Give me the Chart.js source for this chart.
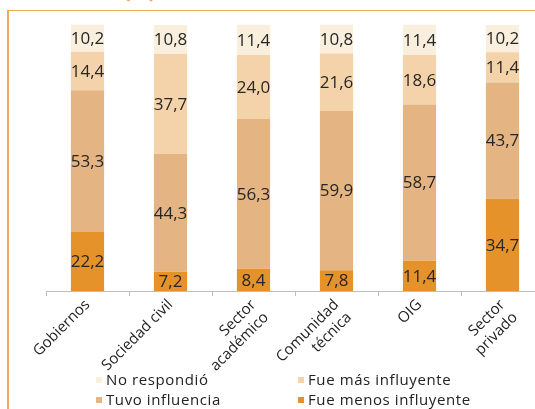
<!DOCTYPE html>
<html>
<head>
<meta charset="utf-8">
<script src="https://cdn.jsdelivr.net/npm/chart.js@4.4.1/dist/chart.umd.min.js"></script>
<style>
  html, body { margin:0; padding:0; background:#ffffff; width:535px; height:409px; overflow:hidden; position:relative; }
  #wrap { position:absolute; left:0; top:0; width:545px; height:409px; }
  .vline { position:absolute; left:7px; top:10px; width:1.5px; height:400px; background:#EFA85C; }
  .hline { position:absolute; left:7px; top:9.5px; width:540px; height:1.5px; background:#EFA85C; }
  .ttl { position:absolute; left:124px; top:-23px; font:bold 20px "Open Sans", sans-serif; color:#EFA85C; }
  .legend { position:absolute; font:15px "Open Sans", sans-serif; color:#222; letter-spacing:0.6px; }
  .legend span.sw { display:inline-block; width:6px; height:6px; margin-right:4px; vertical-align:middle; position:relative; top:-1px; }
</style>
</head>
<body>
<div class="ttl">(%)</div>
<div class="hline"></div>
<div class="vline"></div>
<div id="wrap"><canvas id="c" width="545" height="409"></canvas></div>
<div id="legend"></div>
<script>
const categories = ["Gobiernos", "Sociedad civil", ["Sector", "académico"], ["Comunidad", "técnica"], "OIG", ["Sector", "privado"]];
const seriesNames = ["Fue menos influyente", "Tuvo influencia", "Fue más influyente", "No respondió"];
const menosInfluyente = [22.2, 7.2, 8.4, 7.8, 11.4, 34.7];
const tuvoInfluencia = [53.3, 44.3, 56.3, 59.9, 58.7, 43.7];
const masInfluyente = [14.4, 37.7, 24.0, 21.6, 18.6, 11.4];
const noRespondio = [10.2, 10.8, 11.4, 10.8, 11.4, 10.2];
const colors = ["#E6922B", "#E4B582", "#F5D3AA", "#FAEEDC"];

const legendItems = [
  {name: seriesNames[3], color: colors[3], x: 96, y: 369},
  {name: seriesNames[2], color: colors[2], x: 298, y: 369},
  {name: seriesNames[1], color: colors[1], x: 96, y: 389},
  {name: seriesNames[0], color: colors[0], x: 298, y: 389}
];
const lg = document.getElementById('legend');
legendItems.forEach(it => {
  const d = document.createElement('div');
  d.className = 'legend';
  d.style.left = it.x + 'px';
  d.style.top = it.y + 'px';
  d.innerHTML = '<span class="sw" style="background:' + it.color + '"></span>' + it.name;
  lg.appendChild(d);
});

const valueLabels = {
  id: 'valueLabels',
  afterDatasetsDraw(chart) {
    const ctx = chart.ctx;
    ctx.save();
    ctx.font = '17px "Open Sans", sans-serif';
    ctx.fillStyle = '#262626';
    ctx.textAlign = 'center';
    ctx.textBaseline = 'middle';
    chart.data.datasets.forEach((ds, i) => {
      const meta = chart.getDatasetMeta(i);
      meta.data.forEach((el, j) => {
        const v = ds.data[j];
        const y = (el.y + el.base) / 2;
        ctx.fillText(v.toFixed(1).replace('.', ','), el.x, y + 1);
      });
    });
    ctx.restore();
  }
};

const dataSets = [menosInfluyente, tuvoInfluencia, masInfluyente, noRespondio].map((d, i) => ({
  label: seriesNames[i],
  data: d,
  backgroundColor: colors[i],
  borderWidth: 0,
  barPercentage: 0.4,
  categoryPercentage: 1.0,
  clip: false
}));

new Chart(document.getElementById('c'), {
  type: 'bar',
  data: { labels: categories, datasets: dataSets },
  options: {
    responsive: false,
    animation: false,
    layout: { padding: { left: 46, right: 1, top: 25, bottom: 0 } },
    plugins: { legend: { display: false }, tooltip: { enabled: false } },
    scales: {
      x: {
        stacked: true,
        grid: { offset: true, drawOnChartArea: false, tickLength: 5, color: '#BDBDBD' },
        border: { color: '#BDBDBD', width: 1 },
        ticks: { color: '#222', font: { family: 'Open Sans', size: 15 }, minRotation: 45, maxRotation: 45, padding: 0, autoSkip: false },
        afterFit: (s) => { s.height = 118; }
      },
      y: {
        stacked: true, display: false, min: 0, max: 100
      }
    }
  },
  plugins: [valueLabels]
});
</script>
</body>
</html>
